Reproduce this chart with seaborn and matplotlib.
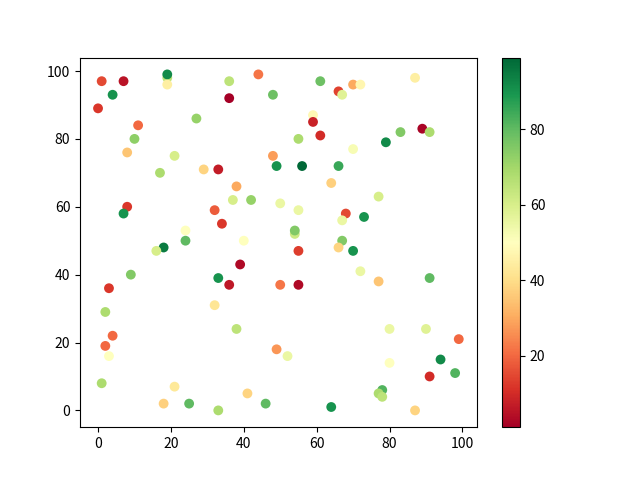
import matplotlib
matplotlib.use("Agg")
import matplotlib.pyplot as plt
import seaborn as sns
import pandas as pd
from matplotlib.colors import Normalize
from matplotlib.cm import ScalarMappable

plt.rcParams['font.family'] = ['Noto Sans CJK SC', 'DejaVu Sans']

# point positions and colour values
x = [19, 1, 7, 19, 19, 36, 44, 4, 36, 48, 0, 27, 11, 10, 8, 21, 48, 49, 17, 29,
     33, 38, 37, 42, 50, 8, 7, 32, 34, 24, 24, 40, 18, 61, 66, 67, 70, 72, 87, 59,
     59, 61, 55, 70, 79, 83, 89, 91, 56, 66, 64, 77, 55, 68, 67, 73, 54, 54, 67, 66,
     16, 9, 39, 33, 36, 50, 3, 32, 2, 38, 4, 2, 3, 49, 1, 21, 41, 18, 25, 46,
     33, 55, 70, 72, 77, 91, 55, 80, 90, 99, 52, 80, 94, 98, 91, 78, 77, 78, 64, 87]
y = [98, 97, 97, 99, 96, 97, 99, 93, 92, 93, 89, 86, 84, 80, 76, 75, 75, 72, 70, 71,
     71, 66, 62, 62, 61, 60, 58, 59, 55, 53, 50, 50, 48, 97, 94, 93, 96, 96, 98, 87,
     85, 81, 80, 77, 79, 82, 83, 82, 72, 72, 67, 63, 59, 58, 56, 57, 52, 53, 50, 48,
     47, 40, 43, 39, 37, 37, 36, 31, 29, 24, 22, 19, 16, 18, 8, 7, 5, 2, 2, 2,
     0, 47, 47, 41, 38, 39, 37, 24, 24, 21, 16, 14, 15, 11, 10, 6, 5, 4, 1, 0]
values = [65, 15, 5, 92, 45, 65, 22, 90, 1, 78, 12, 72, 20, 73, 35, 60, 28, 90, 68, 38,
          7, 30, 60, 72, 55, 12, 90, 18, 12, 50, 80, 50, 95, 78, 14, 58, 30, 47, 45, 48,
          8, 10, 68, 52, 92, 75, 2, 68, 99, 85, 37, 60, 55, 15, 55, 90, 62, 75, 75, 38,
          60, 75, 3, 90, 6, 22, 12, 42, 68, 65, 20, 20, 50, 27, 68, 43, 38, 37, 80, 80,
          68, 13, 90, 55, 35, 80, 3, 55, 58, 20, 55, 50, 92, 82, 10, 82, 68, 65, 90, 38]

df = pd.DataFrame({"x": x, "y": y, "v": values})
norm = Normalize(vmin=min(values), vmax=max(values))

fig, ax = plt.subplots(figsize=(6.4, 4.8), dpi=100)
sns.scatterplot(data=df, x="x", y="y", hue="v", palette="RdYlGn", hue_norm=norm,
                s=50, linewidth=0, legend=False, ax=ax)
ax.set_xlabel("")
ax.set_ylabel("")
ax.set_xticks([0, 20, 40, 60, 80, 100])
ax.set_yticks([0, 20, 40, 60, 80, 100])

sm = ScalarMappable(norm=norm, cmap="RdYlGn")
fig.colorbar(sm, ax=ax)

plt.savefig("out.png", dpi=100)
